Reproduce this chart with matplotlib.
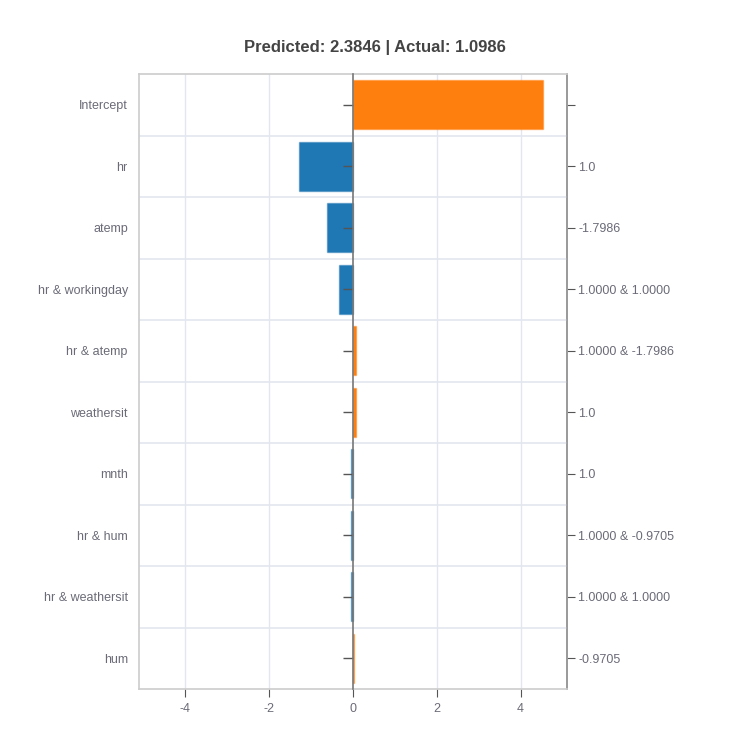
import numpy as np
import matplotlib
matplotlib.use("Agg")
import matplotlib.pyplot as plt
from matplotlib.colors import to_rgba

plt.rcParams['font.family'] = ['Liberation Sans', 'DejaVu Sans']

# feature contributions
features = ["Intercept", "hr", "atemp", "hr & workingday", "hr & atemp",
            "weathersit", "mnth", "hr & hum", "hr & weathersit", "hum"]
contrib = [4.54, -1.30, -0.61, -0.33, 0.08, 0.065, -0.05, -0.04, -0.04, 0.015]
values = ["", "1.0", "-1.7986", "1.0000 & 1.0000", "1.0000 & -1.7986",
          "1.0", "1.0", "1.0000 & -0.9705", "1.0000 & 1.0000", "-0.9705"]
title = "Predicted: 2.3846 | Actual: 1.0986"

blue = "#1f77b4"
orange = "#ff7f0e"
txt = "#6b6b78"
grid = "#e3e6ee"

fig = plt.figure(figsize=(7.5, 7.5), dpi=100)
ax = fig.add_axes([0.1853, 0.0813, 0.5707, 0.82])

y = np.arange(len(features))
cols = [orange if c > 0 else blue for c in contrib]
edges = [to_rgba(c, 0.45) for c in cols]
ax.barh(y, contrib, height=0.8, color=cols, edgecolor=edges, linewidth=1.0, zorder=3)

ax.set_xlim(-5.107, 5.107)
ax.set_ylim(len(features) - 0.5, -0.5)

ax.set_xticks([-4, -2, 0, 2, 4])
ax.set_xticklabels(["-4", "-2", "0", "2", "4"])
ax.tick_params(axis='x', length=6, color="#555555", labelcolor=txt, labelsize=9, pad=4)
ax.set_yticks(y)
ax.set_yticklabels(features)
ax.tick_params(axis='y', length=0, labelcolor=txt, labelsize=9, pad=8)

# grid: vertical at ticks (except 0), horizontal between rows
for xv in [-4, -2, 2, 4]:
    ax.axvline(xv, color=grid, lw=1, zorder=1)
for yv in np.arange(0.5, len(features) - 0.5, 1):
    ax.axhline(yv, color=grid, lw=1.2, zorder=1)

for s in ['top', 'bottom', 'left']:
    ax.spines[s].set_color("#cccccc")
    ax.spines[s].set_linewidth(1.2)
ax.spines['right'].set_color("#999999")
ax.spines['right'].set_linewidth(1.2)

# zero line with ticks pointing left
zero = ax.secondary_yaxis(0.5)
zero.set_yticks(y)
zero.set_yticklabels([""] * len(y))
zero.tick_params(length=7, color="#555555", width=1, direction='in')
for s in zero.spines.values():
    s.set_color("#777777")
    s.set_linewidth(1.2)
zero.set_zorder(4)

right = ax.secondary_yaxis('right')
right.set_yticks(y)
right.set_yticklabels(values)
right.tick_params(length=6, color="#555555", labelcolor=txt, labelsize=9, pad=2)
right.spines['right'].set_color("#999999")
right.spines['right'].set_linewidth(1.2)

fig.suptitle(title, x=0.5, y=0.947, fontsize=12, fontweight='bold', color="#444444")

fig.savefig("out.png", dpi=100, facecolor='white')
